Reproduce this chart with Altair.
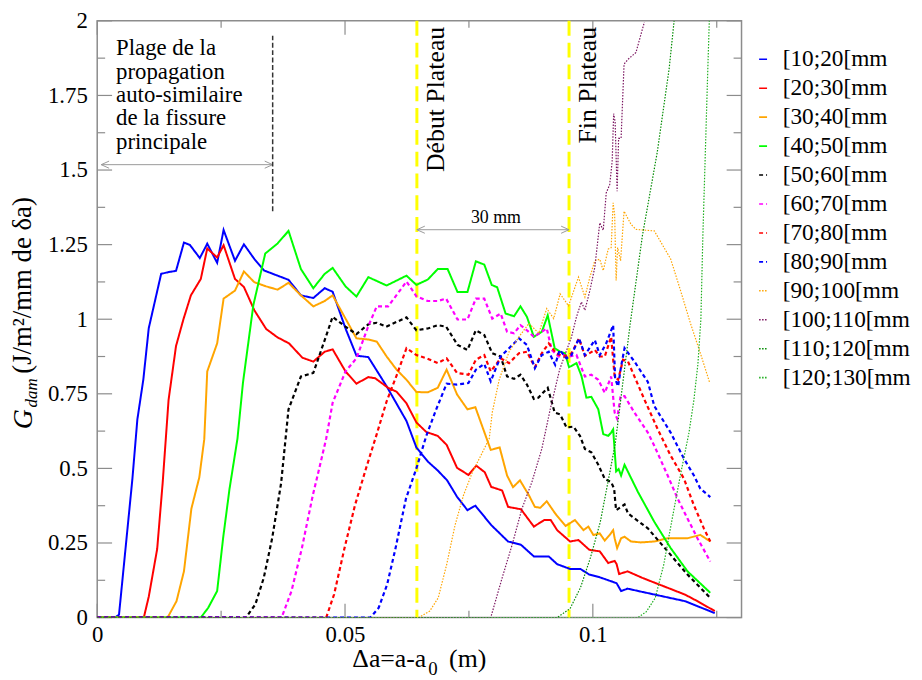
import altair as alt
import pandas as pd

FONT = "Liberation Serif"
FRAME = "#8c8c8c"
W, H = 650, 602

SERIES = ["[10;20[mm", "[20;30[mm", "[30;40[mm", "[40;50[mm", "[50;60[mm", "[60;70[mm",
          "[70;80[mm", "[80;90[mm", "[90;100[mm", "[100;110[mm", "[110;120[mm", "[120;130[mm"]
COLORS = ["#0000FF", "#FF0000", "#FFA500", "#00FF00", "#000000", "#FF00FF",
          "#FF0000", "#0000FF", "#FFA500", "#7B1560", "#008B00", "#1FAF1F"]
STYLES = ["solid"] * 4 + ["dashed"] * 4 + ["dotted"] * 4
DASH = {"solid": [1, 0], "dashed": [4, 3], "dotted": [1.5, 1.5]}
SW = {"solid": 2.0, "dashed": 2.2, "dotted": 1.2}

X_LABELS = [0, 0.05, 0.1]
X_MINOR = [0.025, 0.075, 0.125]
Y_LABELS = [0, 0.25, 0.5, 0.75, 1, 1.25, 1.5, 1.75, 2]
Y_MINOR = [0.125, 0.375, 0.625, 0.875, 1.125, 1.375, 1.625, 1.875]

S01 = [(0, 0), (0.0036, 0), (0.0044, 0.01), (0.0071, 0.465), (0.0081, 0.664), (0.0093, 0.797), (0.0104, 0.970),
       (0.0129, 1.152), (0.0144, 1.158), (0.0159, 1.162), (0.0175, 1.257), (0.0187, 1.249), (0.0207, 1.205),
       (0.0222, 1.253), (0.0242, 1.189), (0.0255, 1.299), (0.0278, 1.196), (0.0296, 1.251), (0.0317, 1.202),
       (0.0337, 1.163), (0.0364, 1.146), (0.0386, 1.132), (0.0411, 1.080), (0.0436, 1.071), (0.0459, 1.104),
       (0.0475, 1.092), (0.0501, 0.969), (0.0523, 0.878), (0.0547, 0.873), (0.0584, 0.775), (0.0624, 0.659),
       (0.0644, 0.570), (0.0667, 0.523), (0.0687, 0.493), (0.0706, 0.460), (0.0726, 0.405), (0.0747, 0.360),
       (0.0763, 0.375), (0.0795, 0.310), (0.0829, 0.255), (0.0855, 0.244), (0.0881, 0.205), (0.0911, 0.205),
       (0.0928, 0.179), (0.0954, 0.163), (0.0975, 0.163), (0.0993, 0.144), (0.1014, 0.135), (0.1040, 0.120),
       (0.1048, 0.115), (0.1057, 0.089), (0.1070, 0.097), (0.1100, 0.086), (0.1186, 0.055), (0.1246, 0.015)]
S02 = [(0, 0), (0.0094, 0), (0.0104, 0.07), (0.0121, 0.23), (0.0132, 0.45), (0.0144, 0.73), (0.0159, 0.91),
       (0.0174, 1.0), (0.0189, 1.08), (0.0209, 1.135), (0.0222, 1.237), (0.0242, 1.207), (0.0255, 1.248),
       (0.0278, 1.135), (0.0296, 1.108), (0.0317, 1.03), (0.0341, 0.967), (0.0364, 0.939), (0.0387, 0.919),
       (0.0414, 0.871), (0.0436, 0.858), (0.0459, 0.891), (0.0475, 0.899), (0.0501, 0.825), (0.0523, 0.784),
       (0.0547, 0.806), (0.0561, 0.802), (0.0587, 0.770), (0.0604, 0.757), (0.0624, 0.718), (0.0644, 0.654),
       (0.0664, 0.622), (0.0687, 0.609), (0.0705, 0.579), (0.0726, 0.502), (0.0749, 0.478), (0.0765, 0.509),
       (0.0782, 0.487), (0.0795, 0.438), (0.0817, 0.426), (0.0829, 0.371), (0.0855, 0.363), (0.0881, 0.305),
       (0.0902, 0.327), (0.0915, 0.327), (0.0928, 0.293), (0.0954, 0.255), (0.0971, 0.260), (0.0993, 0.227),
       (0.1014, 0.222), (0.1031, 0.183), (0.1044, 0.190), (0.1048, 0.179), (0.1053, 0.146), (0.1070, 0.155),
       (0.1100, 0.133), (0.1143, 0.105), (0.1186, 0.077), (0.1211, 0.055), (0.1246, 0.022)]
S03 = [(0, 0), (0.0142, 0), (0.016, 0.055), (0.0175, 0.155), (0.019, 0.365), (0.0206, 0.47), (0.0216, 0.598),
       (0.0222, 0.825), (0.0242, 0.919), (0.0255, 1.069), (0.0278, 1.096), (0.0296, 1.160), (0.0317, 1.124),
       (0.0341, 1.110), (0.0364, 1.099), (0.0386, 1.122), (0.0411, 1.080), (0.0436, 1.043), (0.0459, 1.061),
       (0.0475, 1.080), (0.0501, 1.002), (0.0523, 0.936), (0.0547, 0.932), (0.0564, 0.925), (0.0584, 0.875),
       (0.0604, 0.831), (0.0624, 0.797), (0.0644, 0.756), (0.0667, 0.755), (0.0687, 0.770), (0.0705, 0.831),
       (0.0726, 0.748), (0.0747, 0.698), (0.0763, 0.705), (0.0794, 0.562), (0.0812, 0.570), (0.0827, 0.476),
       (0.0839, 0.437), (0.0853, 0.460), (0.0871, 0.41), (0.0883, 0.371), (0.0894, 0.368), (0.0907, 0.39),
       (0.0924, 0.349), (0.0945, 0.307), (0.0964, 0.327), (0.0981, 0.293), (0.0991, 0.305), (0.1001, 0.277),
       (0.1014, 0.282), (0.1024, 0.258), (0.1034, 0.277), (0.1041, 0.293), (0.1044, 0.266), (0.1049, 0.233),
       (0.1057, 0.266), (0.1064, 0.271), (0.1077, 0.255), (0.1097, 0.252), (0.1124, 0.255), (0.1151, 0.266),
       (0.1191, 0.266), (0.1217, 0.277), (0.1237, 0.255)]
S04 = [(0, 0), (0.0209, 0), (0.0224, 0.033), (0.0242, 0.089), (0.0254, 0.266), (0.0267, 0.432), (0.0283, 0.6),
       (0.0294, 0.786), (0.0315, 1.047), (0.0339, 1.220), (0.0364, 1.254), (0.0386, 1.296), (0.0411, 1.168),
       (0.0436, 1.104), (0.0459, 1.152), (0.0475, 1.172), (0.0501, 1.110), (0.0523, 1.076), (0.0547, 1.141),
       (0.0584, 1.113), (0.0624, 1.146), (0.0644, 1.115), (0.0667, 1.133), (0.0687, 1.168), (0.0707, 1.168),
       (0.0727, 1.091), (0.0747, 1.091), (0.0764, 1.194), (0.0781, 1.183), (0.0796, 1.115), (0.0807, 1.107),
       (0.0824, 1.019), (0.0841, 1.010), (0.0854, 1.043), (0.0867, 1.008), (0.0881, 0.941), (0.0897, 0.958),
       (0.0909, 1.013), (0.0923, 0.903), (0.0934, 0.891), (0.0944, 0.886), (0.0952, 0.839), (0.0967, 0.853),
       (0.0977, 0.810), (0.0987, 0.737), (0.0997, 0.740), (0.1011, 0.698), (0.1021, 0.615), (0.1031, 0.609),
       (0.1037, 0.620), (0.1041, 0.631), (0.1047, 0.490), (0.1052, 0.498), (0.1057, 0.476), (0.1064, 0.512),
       (0.1091, 0.421), (0.1124, 0.321), (0.1157, 0.233), (0.1191, 0.155), (0.1237, 0.083)]
S05 = [(0, 0), (0.030, 0), (0.0319, 0.044), (0.0336, 0.133), (0.0353, 0.266), (0.0371, 0.45), (0.0386, 0.698),
       (0.0411, 0.808), (0.0436, 0.820), (0.0459, 0.930), (0.0475, 1.008), (0.0501, 0.975), (0.0523, 0.950),
       (0.0547, 0.983), (0.0564, 0.988), (0.0583, 0.975), (0.0624, 1.006), (0.0644, 0.963), (0.0667, 0.969),
       (0.0687, 0.980), (0.0704, 0.975), (0.0727, 0.914), (0.0747, 0.897), (0.0764, 0.963), (0.0781, 0.947),
       (0.0797, 0.886), (0.0814, 0.875), (0.0827, 0.808), (0.0841, 0.800), (0.0854, 0.814), (0.0867, 0.781),
       (0.0881, 0.733), (0.0890, 0.737), (0.0909, 0.770), (0.0923, 0.687), (0.0934, 0.681), (0.0947, 0.637),
       (0.0961, 0.640), (0.0974, 0.609), (0.0984, 0.565), (0.0997, 0.554), (0.1011, 0.512), (0.1024, 0.465),
       (0.1037, 0.454), (0.1043, 0.432), (0.1045, 0.393), (0.1047, 0.360), (0.1057, 0.371), (0.1064, 0.379),
       (0.1071, 0.349), (0.1111, 0.299), (0.1151, 0.222), (0.1191, 0.144), (0.1217, 0.100), (0.1237, 0.066)]
S06 = [(0, 0), (0.0372, 0), (0.0392, 0.089), (0.0413, 0.233), (0.0435, 0.410), (0.0448, 0.50), (0.0462, 0.60),
       (0.0475, 0.720), (0.0501, 0.825), (0.0523, 0.869), (0.0547, 0.977), (0.0564, 1.043), (0.0587, 1.043),
       (0.0624, 1.126), (0.0644, 1.077), (0.0667, 1.061), (0.0687, 1.061), (0.0704, 1.069), (0.0727, 0.999),
       (0.0747, 0.999), (0.0764, 1.069), (0.0781, 1.069), (0.0797, 1.002), (0.0814, 1.019), (0.0827, 0.958),
       (0.0841, 0.953), (0.0854, 0.980), (0.0867, 0.963), (0.0881, 0.941), (0.0897, 0.958), (0.0907, 0.969),
       (0.0917, 0.897), (0.0931, 0.875), (0.0941, 0.880), (0.0951, 0.875), (0.0967, 0.880), (0.0984, 0.808),
       (0.0997, 0.814), (0.1011, 0.797), (0.1024, 0.753), (0.1037, 0.808), (0.1044, 0.687), (0.1049, 0.667),
       (0.1056, 0.742), (0.1064, 0.742), (0.1084, 0.687), (0.1111, 0.620), (0.1124, 0.576), (0.1151, 0.476),
       (0.1171, 0.399), (0.1191, 0.332), (0.1211, 0.266), (0.1237, 0.188)]
S07 = [(0, 0), (0.0462, 0), (0.0478, 0.078), (0.0499, 0.233), (0.052, 0.376), (0.0542, 0.498), (0.0564, 0.615),
       (0.0584, 0.725), (0.0604, 0.811), (0.0624, 0.903), (0.0644, 0.880), (0.0664, 0.869), (0.0687, 0.853),
       (0.0705, 0.869), (0.0726, 0.820), (0.0749, 0.814), (0.0764, 0.864), (0.0781, 0.880), (0.0794, 0.825),
       (0.0814, 0.869), (0.0831, 0.853), (0.0851, 0.886), (0.0867, 0.891), (0.0883, 0.839), (0.0897, 0.886),
       (0.0911, 0.919), (0.0927, 0.884), (0.0944, 0.875), (0.0957, 0.886), (0.0972, 0.935), (0.0984, 0.877),
       (0.1004, 0.897), (0.1014, 0.875), (0.1024, 0.875), (0.1037, 0.941), (0.1044, 0.808), (0.1051, 0.797),
       (0.1061, 0.864), (0.1071, 0.858), (0.1104, 0.731), (0.1131, 0.631), (0.1157, 0.543), (0.1184, 0.465),
       (0.1204, 0.376), (0.1224, 0.299), (0.1237, 0.255)]
S08 = [(0, 0), (0.0551, 0), (0.0568, 0.033), (0.0585, 0.111), (0.0602, 0.233), (0.0623, 0.399), (0.0644, 0.50),
       (0.0664, 0.609), (0.0684, 0.698), (0.0705, 0.784), (0.0726, 0.781), (0.0749, 0.786), (0.0764, 0.831),
       (0.0781, 0.850), (0.0794, 0.792), (0.0814, 0.875), (0.0831, 0.903), (0.0851, 0.936), (0.0867, 0.914),
       (0.0883, 0.836), (0.0897, 0.880), (0.0911, 0.891), (0.0924, 0.847), (0.0933, 0.897), (0.0947, 0.869),
       (0.0957, 0.880), (0.0972, 0.936), (0.0984, 0.880), (0.1004, 0.930), (0.1014, 0.880), (0.1027, 0.919),
       (0.1041, 0.980), (0.1045, 0.800), (0.1051, 0.775), (0.1057, 0.842), (0.1064, 0.903), (0.1084, 0.858),
       (0.1111, 0.790), (0.1124, 0.709), (0.1157, 0.620), (0.1184, 0.532), (0.1204, 0.476), (0.1217, 0.432),
       (0.1237, 0.404)]
S09 = [(0, 0), (0.0649, 0), (0.0671, 0.022), (0.0688, 0.066), (0.0705, 0.177), (0.0722, 0.310), (0.0739, 0.41),
       (0.0757, 0.487), (0.0774, 0.543), (0.0791, 0.60), (0.0797, 0.687), (0.0811, 0.797), (0.0831, 0.891),
       (0.0851, 0.941), (0.0871, 0.986), (0.0891, 0.953), (0.0907, 1.036), (0.0921, 1.002), (0.0934, 1.085),
       (0.0951, 1.045), (0.0971, 1.141), (0.0984, 1.074), (0.0994, 1.141), (0.1004, 1.196), (0.1014, 1.201),
       (0.1021, 1.163), (0.1031, 1.235), (0.1037, 1.240), (0.1041, 1.390), (0.1044, 1.35), (0.1047, 1.130),
       (0.1050, 1.240), (0.1056, 1.196), (0.1063, 1.362), (0.1077, 1.318), (0.1087, 1.301), (0.1124, 1.296),
       (0.1157, 1.202), (0.1177, 1.096), (0.1197, 0.986), (0.1217, 0.886), (0.1236, 0.786)]
S10 = [(0, 0), (0.0794, 0), (0.0817, 0.133), (0.0837, 0.243), (0.0857, 0.365), (0.0877, 0.454), (0.0897, 0.565),
       (0.0914, 0.698), (0.0933, 0.831), (0.0957, 0.941), (0.0967, 1.008), (0.0977, 1.058), (0.0984, 1.03),
       (0.0994, 1.096), (0.1004, 1.174), (0.1014, 1.323), (0.1021, 1.298), (0.1027, 1.423), (0.1034, 1.451),
       (0.1039, 1.528), (0.1042, 1.689), (0.1045, 1.661), (0.1049, 1.429), (0.1052, 1.606), (0.1057, 1.606),
       (0.1063, 1.855), (0.1071, 1.871), (0.1087, 1.894), (0.1104, 1.996)]
S11 = [(0, 0), (0.0928, 0), (0.0954, 0.03), (0.0975, 0.10), (0.0995, 0.2), (0.1015, 0.32), (0.103, 0.45),
       (0.1045, 0.58), (0.106, 0.78), (0.1075, 0.98), (0.110, 1.28), (0.113, 1.56), (0.1154, 1.84), (0.1164, 2.0)]
S12 = [(0, 0), (0.1091, 0), (0.1108, 0.02), (0.1126, 0.066), (0.1143, 0.177), (0.116, 0.33), (0.1177, 0.48),
       (0.1194, 0.62), (0.1204, 0.73), (0.1212, 0.85), (0.1218, 1.0), (0.1222, 1.28), (0.1227, 1.56),
       (0.1232, 1.84), (0.1235, 2.0)]
ALL = [S01, S02, S03, S04, S05, S06, S07, S08, S09, S10, S11, S12]

PLATEAU_X = [0.0645, 0.0952]
PLATEAU_TXT = ["Début Plateau", "Fin Plateau"]
SPAN_Y = 1.30
SPAN_TXT = "30 mm"
PLAGE_X = [0.0008, 0.0354]
PLAGE_Y = 1.518
PLAGE_LINE = [0.0354, 1.362, 1.95]
PLAGE_LINES = ["Plage de la", "propagation", "auto-similaire", "de la fissure", "\u2002principale"]

rows = []
for name, style, pts in zip(SERIES, STYLES, ALL):
    for i, (x, y) in enumerate(pts):
        rows.append({"x": x, "y": y, "series": name, "style": style, "i": i})
df = pd.DataFrame(rows)

XS = alt.Scale(domain=[0, 0.13], nice=False, zero=False)
YS = alt.Scale(domain=[0, 2], nice=False, zero=False)
AX = alt.Axis(values=X_LABELS, format=".3~g", title=None, ticks=False, domain=False, grid=False,
              labelFlush=False, labelFontSize=23, labelFont=FONT, labelColor="black", labelPadding=6)
AY = alt.Axis(values=Y_LABELS, format=".3~g", title=None, ticks=False, domain=False, grid=False,
              labelFlush=False, labelFontSize=23, labelFont=FONT, labelColor="black", labelPadding=10)
X = alt.X("x:Q", scale=XS, axis=AX)
Y = alt.Y("y:Q", scale=YS, axis=AY)

LEG = alt.Legend(title=None, orient="none", legendX=660, legendY=27, labelFont=FONT, labelFontSize=23.5,
                 labelColor="black", symbolType="stroke", symbolSize=64, symbolStrokeWidth=1.6,
                 rowPadding=4.2, labelOffset=8, padding=0, labelLimit=0)
COLOR = alt.Color("series:N", scale=alt.Scale(domain=SERIES, range=COLORS), legend=LEG)
DASHENC = alt.StrokeDash("series:N", scale=alt.Scale(domain=SERIES, range=[DASH[s] for s in STYLES]), legend=LEG)


def lines(style):
    return alt.Chart(df[df["style"] == style]).mark_line(strokeWidth=SW[style], clip=True).encode(
        x=X, y=Y, color=COLOR, strokeDash=DASHENC, order="i:Q")


def yticks(vals, x0, x1):
    return alt.Chart(pd.DataFrame({"y": vals})).mark_rule(color=FRAME, strokeWidth=1.2).encode(
        y=Y, x=alt.value(x0), x2=alt.value(x1))


def xticks(vals, y0, y1):
    return alt.Chart(pd.DataFrame({"x": vals})).mark_rule(color=FRAME, strokeWidth=1.2).encode(
        x=X, y=alt.value(y0), y2=alt.value(y1))


ticks = [
    yticks(Y_LABELS, 0, 15), yticks(Y_MINOR, 0, 8), yticks(Y_LABELS, W - 15, W), yticks(Y_MINOR, W - 8, W),
    xticks(X_LABELS, H, H - 14), xticks(X_MINOR, H, H - 7), xticks(X_LABELS, 0, 14), xticks(X_MINOR, 0, 7),
]

plateau = alt.Chart(pd.DataFrame({"x": PLATEAU_X})).mark_rule(
    color="#FFFF00", strokeWidth=3, strokeDash=[15, 7]).encode(x=X)

ptext = alt.Chart(pd.DataFrame({"x": PLATEAU_X, "y": [2, 2], "t": PLATEAU_TXT})).mark_text(
    angle=270, align="right", baseline="alphabetic", dx=-6, dy=27, fontSize=26, font=FONT, color="black"
).encode(x=X, y=Y, text="t:N")

arrows = pd.DataFrame({"x": [PLATEAU_X[0], PLAGE_X[0]], "x2": [PLATEAU_X[1], PLAGE_X[1]],
                       "y": [SPAN_Y, PLAGE_Y]})
arrow_lines = alt.Chart(arrows).mark_rule(color="#999999", strokeWidth=1).encode(x=X, x2="x2:Q", y=Y)
heads_l = alt.Chart(arrows).mark_point(shape="M1,-0.45L0,0L1,0.45", size=256, filled=False,
                                       color="#999999", strokeWidth=1, opacity=1).encode(x=X, y=Y)
heads_r = alt.Chart(arrows.assign(x=arrows["x2"])).mark_point(
    shape="M-1,-0.45L0,0L-1,0.45", size=256, filled=False, color="#999999", strokeWidth=1, opacity=1
).encode(x=X, y=Y)

span_txt = alt.Chart(pd.DataFrame({"x": [sum(PLATEAU_X) / 2], "y": [SPAN_Y], "t": [SPAN_TXT]})).mark_text(
    align="center", baseline="bottom", dy=-3, dx=3, fontSize=18, font=FONT, color="black"
).encode(x=X, y=Y, text="t:N")

plage_rule = alt.Chart(pd.DataFrame({"x": [PLAGE_LINE[0]], "y": [PLAGE_LINE[1]], "y2": [PLAGE_LINE[2]]})).mark_rule(
    color="#333333", strokeWidth=1.5, strokeDash=[5, 2.5]).encode(x=X, y=Y, y2="y2:Q")

plage_txt = alt.Chart(pd.DataFrame({"x": [0.0038], "y": [1.884]})).mark_text(
    align="left", baseline="alphabetic", lineHeight=23.5, fontSize=23, font=FONT, color="black"
).encode(x=X, y=Y, text=alt.value(PLAGE_LINES))


def label(t, x, y, size, align="center", angle=0, italic=False):
    return alt.Chart(pd.DataFrame({"t": [t]})).mark_text(
        fontSize=size, font=FONT, color="black", align=align, baseline="alphabetic", angle=angle,
        fontStyle="italic" if italic else "normal"
    ).encode(text="t:N", x=alt.value(x), y=alt.value(y))


titles = [
    label("G", -66, 412, 28, align="left", angle=270, italic=True),
    label("dam", -61, 390, 17, align="left", angle=270, italic=True),
    label("(J/m²/mm de δa)", -67, 356, 27, align="left", angle=270),
    label("Δa=a-a", 332, 652, 26, align="right"),
    label("0", 334, 660, 19, align="left"),
    label("(m)", 355, 652, 26, align="left"),
]

chart = alt.layer(
    plateau, *ticks, lines("solid"), lines("dashed"), lines("dotted"),
    ptext, arrow_lines, heads_l, heads_r, span_txt, plage_rule, plage_txt, *titles
).properties(
    width=W, height=H,
    autosize=alt.AutoSizeParams(type="none"),
    padding={"left": 90, "top": 10, "right": 174, "bottom": 60},
    background="white",
).configure(font=FONT).configure_axis(labelFont=FONT).configure_legend(labelFont=FONT).configure_view(
    stroke=FRAME, strokeWidth=1.5)

chart.save("out.html", embed_options={"renderer": "svg", "actions": False})
